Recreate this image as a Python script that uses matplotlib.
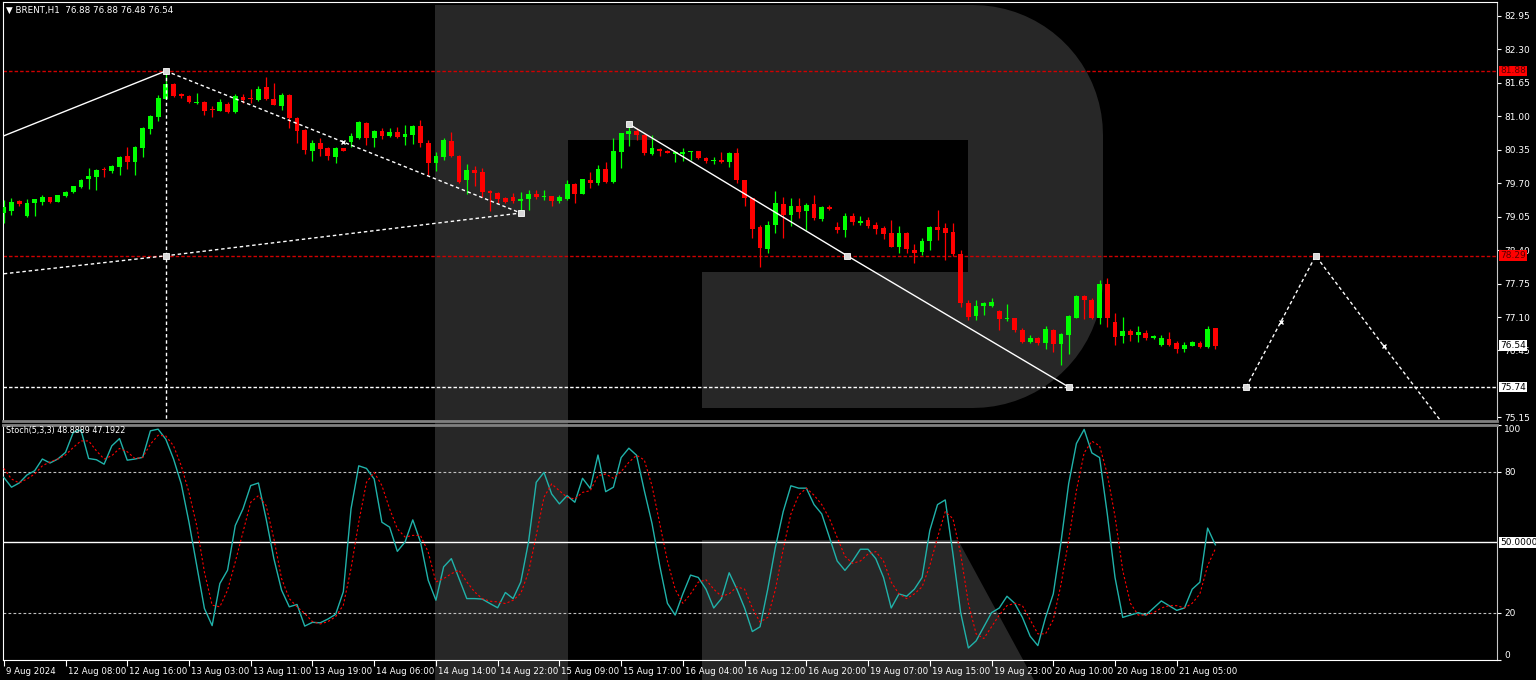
import numpy as np
import matplotlib
matplotlib.use('Agg')
import matplotlib.pyplot as plt
from matplotlib.patches import Rectangle, Polygon
from matplotlib.transforms import ScaledTranslation

# ---------------- data: BRENT H1 candles (open, high, low, close)
opens = [79.12, 79.15, 79.36, 79.07, 79.32, 79.34, 79.43, 79.34, 79.45, 79.52,
         79.62, 79.78, 79.82, 79.97, 79.93, 80.02, 80.22, 80.12, 80.38, 80.76,
         80.99, 81.34, 81.63, 81.43, 81.40, 81.25, 81.28, 81.15, 81.11, 81.24,
         81.09, 81.37, 81.35, 81.32, 81.56, 81.33, 81.20, 81.42, 80.97, 80.74,
         80.33, 80.49, 80.38, 80.20, 80.38, 80.50, 80.57, 80.87, 80.57, 80.72,
         80.61, 80.70, 80.60, 80.64, 80.81, 80.49, 80.09, 80.20, 80.51, 80.23,
         79.76, 79.95, 79.91, 79.54, 79.51, 79.42, 79.44, 79.36, 79.39, 79.49,
         79.44, 79.45, 79.36, 79.40, 79.69, 79.49, 79.76, 79.70, 79.98, 79.73,
         80.31, 80.65, 80.72, 80.63, 80.27, 80.37, 80.33, 80.27, 80.27, 80.30,
         80.32, 80.19, 80.13, 80.15, 80.12, 80.28, 79.76, 79.41, 78.84, 78.42,
         78.89, 79.29, 79.08, 79.25, 79.15, 79.29, 79.01, 79.23, 78.84, 78.79,
         79.07, 78.92, 78.99, 78.89, 78.83, 78.74, 78.47, 78.73, 78.40, 78.37,
         78.57, 78.84, 78.83, 78.75, 78.33, 77.38, 77.12, 77.32, 77.32, 77.22,
         77.06, 77.08, 76.85, 76.62, 76.70, 76.59, 76.85, 76.58, 76.75, 77.09,
         77.51, 77.43, 77.08, 77.74, 77.00, 76.73, 76.83, 76.75, 76.79, 76.70,
         76.56, 76.68, 76.59, 76.48, 76.54, 76.59, 76.51, 76.88]
highs = [79.38, 79.42, 79.37, 79.39, 79.40, 79.47, 79.44, 79.48, 79.55, 79.65,
         79.78, 80.00, 79.97, 80.01, 80.05, 80.22, 80.41, 80.42, 80.80, 81.03,
         81.42, 81.88, 81.64, 81.45, 81.41, 81.45, 81.29, 81.19, 81.33, 81.27,
         81.43, 81.43, 81.53, 81.59, 81.76, 81.65, 81.46, 81.43, 80.99, 80.75,
         80.53, 80.57, 80.40, 80.40, 80.38, 80.67, 80.90, 80.88, 80.74, 80.77,
         80.77, 80.79, 80.83, 80.83, 80.92, 80.54, 80.30, 80.57, 80.69, 80.25,
         80.08, 80.04, 79.99, 79.57, 79.52, 79.44, 79.51, 79.52, 79.56, 79.56,
         79.57, 79.45, 79.47, 79.77, 79.70, 79.79, 79.91, 80.06, 80.12, 80.57,
         80.67, 80.85, 80.77, 80.66, 80.64, 80.38, 80.35, 80.33, 80.38, 80.32,
         80.33, 80.20, 80.20, 80.30, 80.30, 80.38, 79.76, 79.41, 78.89, 78.97,
         79.54, 79.44, 79.41, 79.42, 79.31, 79.47, 79.25, 79.28, 78.94, 79.13,
         79.12, 79.07, 79.05, 78.94, 78.87, 78.99, 78.87, 78.76, 78.51, 78.64,
         78.86, 79.18, 78.93, 78.93, 78.40, 77.43, 77.43, 77.40, 77.46, 77.24,
         77.36, 77.09, 76.88, 76.75, 76.72, 76.92, 76.86, 76.79, 77.14, 77.53,
         77.53, 77.47, 77.81, 77.85, 77.18, 77.11, 76.86, 76.92, 76.85, 76.75,
         76.75, 76.81, 76.64, 76.61, 76.63, 76.64, 76.93, 76.88]
lows = [78.93, 79.08, 79.26, 79.05, 79.07, 79.28, 79.32, 79.33, 79.43, 79.51,
        79.60, 79.59, 79.56, 79.82, 79.90, 79.86, 79.97, 79.85, 80.21, 80.66,
        80.90, 81.34, 81.38, 81.36, 81.25, 81.23, 81.03, 80.98, 81.10, 81.07,
        81.07, 81.25, 81.25, 81.30, 81.32, 81.21, 81.12, 80.77, 80.48, 80.27,
        80.14, 80.22, 80.15, 80.09, 80.32, 80.41, 80.56, 80.44, 80.40, 80.55,
        80.59, 80.58, 80.44, 80.46, 80.41, 79.86, 79.93, 80.15, 80.20, 79.70,
        79.49, 79.65, 79.44, 79.15, 79.31, 79.31, 79.31, 79.10, 79.17, 79.39,
        79.38, 79.26, 79.31, 79.38, 79.32, 79.49, 79.60, 79.67, 79.70, 79.70,
        79.99, 80.43, 80.54, 80.24, 80.25, 80.22, 80.28, 80.12, 80.14, 80.15,
        80.17, 80.10, 80.08, 80.09, 80.01, 79.70, 79.25, 78.63, 78.08, 78.35,
        78.74, 78.64, 78.87, 79.02, 78.79, 78.99, 78.97, 79.18, 78.74, 78.66,
        78.89, 78.89, 78.83, 78.72, 78.61, 78.46, 78.35, 78.35, 78.15, 78.31,
        78.40, 78.60, 78.21, 78.28, 77.29, 77.05, 77.05, 77.14, 77.30, 76.85,
        77.03, 76.80, 76.60, 76.60, 76.55, 76.48, 76.42, 76.16, 76.39, 77.08,
        77.07, 77.06, 76.97, 76.90, 76.56, 76.59, 76.64, 76.62, 76.66, 76.68,
        76.54, 76.54, 76.41, 76.43, 76.53, 76.50, 76.49, 76.48]
closes = [79.24, 79.34, 79.30, 79.32, 79.39, 79.43, 79.34, 79.47, 79.53, 79.64,
          79.77, 79.84, 79.96, 79.95, 80.04, 80.21, 80.12, 80.41, 80.77, 81.01,
          81.35, 81.63, 81.40, 81.40, 81.27, 81.27, 81.11, 81.13, 81.27, 81.09,
          81.40, 81.32, 81.33, 81.53, 81.33, 81.22, 81.42, 80.96, 80.72, 80.35,
          80.48, 80.36, 80.22, 80.38, 80.33, 80.61, 80.88, 80.57, 80.72, 80.61,
          80.70, 80.59, 80.65, 80.81, 80.48, 80.10, 80.23, 80.53, 80.22, 79.73,
          79.95, 79.89, 79.52, 79.51, 79.40, 79.34, 79.36, 79.40, 79.49, 79.44,
          79.46, 79.36, 79.44, 79.69, 79.49, 79.78, 79.70, 79.98, 79.73, 80.33,
          80.67, 80.72, 80.63, 80.28, 80.39, 80.32, 80.29, 80.30, 80.31, 80.32,
          80.18, 80.13, 80.15, 80.12, 80.28, 79.76, 79.41, 78.81, 78.44, 78.89,
          79.31, 79.08, 79.25, 79.14, 79.28, 79.03, 79.23, 79.20, 78.79, 79.07,
          78.94, 78.97, 78.87, 78.81, 78.72, 78.47, 78.74, 78.42, 78.35, 78.58,
          78.84, 78.79, 78.74, 78.32, 77.38, 77.10, 77.32, 77.37, 77.40, 77.06,
          77.09, 76.85, 76.62, 76.70, 76.59, 76.86, 76.58, 76.77, 77.12, 77.51,
          77.43, 77.08, 77.74, 77.08, 76.72, 76.83, 76.75, 76.81, 76.70, 76.73,
          76.69, 76.56, 76.48, 76.56, 76.61, 76.51, 76.86, 76.54]

# Stochastic (5,3,3): main %K and signal %D
stoch_k = [77.6, 73.4, 75.2, 78.6, 80.4, 85.4, 83.7, 85.4, 88.2, 96.7,
           97.8, 85.6, 85.1, 83.2, 91.0, 94.1, 84.9, 85.4, 86.1, 97.4,
           98.1, 93.8, 85.4, 74.8, 58.5, 40.2, 21.8, 14.5, 32.4, 38.1,
           57.1, 64.2, 74.1, 75.2, 59.9, 43.0, 29.6, 22.5, 23.5, 14.3,
           15.9, 15.7, 17.3, 19.3, 28.9, 64.2, 82.5, 81.4, 76.9, 58.5,
           56.4, 46.1, 50.1, 59.5, 50.1, 33.8, 25.3, 39.5, 43.0, 34.5,
           26.0, 26.0, 25.8, 23.9, 22.1, 28.6, 26.0, 33.1, 50.1, 75.5,
           79.7, 70.5, 66.3, 69.8, 67.0, 77.2, 72.9, 87.1, 71.5, 73.4,
           86.0, 90.0, 87.0, 72.0, 58.0, 40.0, 24.0, 19.0, 28.0, 36.0,
           35.0, 30.0, 22.0, 26.0, 37.0, 30.0, 22.0, 12.0, 14.0, 30.0,
           48.0, 63.0, 74.0, 73.0, 73.0, 66.0, 62.0, 52.0, 42.0, 38.0,
           42.0, 47.0, 47.0, 43.0, 35.0, 22.0, 28.0, 27.0, 30.0, 35.0,
           55.0, 66.0, 68.0, 45.0, 20.0, 5.0, 8.0, 14.0, 20.0, 22.0,
           27.0, 24.0, 18.0, 10.0, 6.0, 18.0, 28.0, 50.0, 75.0, 92.0,
           98.0, 88.0, 86.0, 62.0, 35.0, 18.0, 19.0, 20.0, 19.0, 22.0,
           25.0, 23.0, 21.0, 22.0, 30.0, 33.0, 56.0, 48.8889]
stoch_d = [81.4, 76.9, 75.2, 76.9, 79.0, 82.5, 84.2, 85.4, 87.1, 90.3,
           93.1, 93.1, 88.9, 85.4, 86.8, 89.9, 88.5, 85.6, 86.1, 91.7,
           95.5, 95.2, 91.0, 82.5, 71.2, 57.1, 37.3, 23.2, 22.5, 29.6,
           41.6, 54.3, 67.0, 69.8, 65.6, 51.5, 34.5, 26.0, 22.5, 19.7,
           16.2, 15.2, 16.2, 18.3, 23.2, 38.8, 58.5, 75.5, 79.7, 74.1,
           64.2, 55.7, 52.2, 52.9, 52.9, 45.8, 33.1, 34.5, 36.6, 38.1,
           33.1, 28.9, 26.0, 24.9, 24.6, 23.9, 25.3, 28.2, 37.3, 52.9,
           69.1, 74.8, 71.9, 69.1, 68.4, 71.2, 71.9, 78.3, 79.0, 77.2,
           80.0, 84.0, 87.0, 85.0, 74.0, 58.0, 42.0, 30.0, 24.0, 28.0,
           33.0, 34.0, 30.0, 27.0, 28.0, 31.0, 30.0, 22.0, 16.0, 18.0,
           30.0, 47.0, 62.0, 70.0, 73.0, 70.0, 66.0, 60.0, 52.0, 44.0,
           41.0, 42.0, 45.0, 46.0, 42.0, 33.0, 28.0, 26.0, 28.0, 31.0,
           40.0, 52.0, 63.0, 60.0, 45.0, 24.0, 11.0, 9.0, 14.0, 19.0,
           23.0, 24.0, 23.0, 17.0, 11.0, 11.0, 17.0, 32.0, 51.0, 72.0,
           88.0, 93.0, 91.0, 79.0, 61.0, 38.0, 24.0, 19.0, 19.0, 20.0,
           22.0, 23.0, 23.0, 22.0, 24.0, 28.0, 40.0, 47.1922]

# time axis labels, one every 8 bars
time_labels = ['9 Aug 2024', '12 Aug 08:00', '12 Aug 16:00', '13 Aug 03:00', '13 Aug 11:00',
               '13 Aug 19:00', '14 Aug 06:00', '14 Aug 14:00', '14 Aug 22:00', '15 Aug 09:00',
               '15 Aug 17:00', '16 Aug 04:00', '16 Aug 12:00', '16 Aug 20:00', '19 Aug 07:00',
               '19 Aug 15:00', '19 Aug 23:00', '20 Aug 10:00', '20 Aug 18:00', '21 Aug 05:00']
price_ticks = [82.95, 82.30, 81.65, 81.00, 80.35, 79.70, 79.05, 78.40, 77.75, 77.10, 76.45, 75.15]

# horizontal levels
level_hi, level_mid, level_lo = 81.88, 78.29, 75.74
last_price = 76.54

# wave markup (bar index, price)
wave1_x, wave1_y = [0, 21], [80.62, 81.88]
wave2_x, wave2_y = [21, 44, 67], [81.88, 80.50, 79.12]
wave3_x, wave3_y = [0, 21, 67], [77.94, 78.29, 79.12]
wave4_x, wave4_y = [81, 109.3, 138], [80.85, 78.29, 75.74]
fcst_x, fcst_y = [161, 165.5, 170, 178.8, 188], [75.74, 77.01, 78.29, 76.54, 74.73]

# ---------------- figure
W, H = 1536, 680
fig = plt.figure(figsize=(W / 100, H / 100), dpi=100, facecolor='black')


def fr(x0, y0, x1, y1):
    return [x0 / W, 1 - y1 / H, (x1 - x0) / W, (y1 - y0) / H]


def pt(x, y):
    return (x / W, 1 - y / H)


# watermark "R" in the background
grey = '#272727'
wm = dict(transform=fig.transFigure, zorder=-5, lw=0)
fig.add_artist(Rectangle(pt(435, 680), 133 / W, 675 / H, fc=grey, **wm))
r = 130
t1 = np.linspace(np.pi / 2, 0, 20)
t2 = np.linspace(0, -np.pi / 2, 20)
bowl = [(435, 5)] + [(973 + r * np.cos(a), 135 - r * np.sin(a)) for a in t1] + \
       [(973 + r * np.cos(a), 278 - r * np.sin(a)) for a in t2] + [(435, 408)]
fig.add_artist(Polygon([pt(x, y) for x, y in bowl], fc=grey, **wm))
fig.add_artist(Rectangle(pt(568, 272), 400 / W, 132 / H, fc='black', **wm))
fig.add_artist(Rectangle(pt(568, 408), 134 / W, 136 / H, fc='black', **wm))
fig.add_artist(Polygon([pt(702, 540), pt(958, 540), pt(1034, 680), pt(702, 680)], fc=grey, **wm))

ax = fig.add_axes(fr(3, 2, 1497, 421))
ax2 = fig.add_axes(fr(3, 424.7, 1497, 659.7), sharex=ax)
for a in (ax, ax2):
    a.set_facecolor('none')
    a.spines['left'].set_color('white')
    a.spines['right'].set_color('#c8c8c8')
    a.yaxis.tick_right()
    a.tick_params(axis='y', colors='white', labelsize=6.5, length=3, width=0.8, pad=2)
ax.spines['top'].set_color('white')
ax.spines['bottom'].set_color('#808080')
ax.spines['bottom'].set_linewidth(2)
ax2.spines['top'].set_color('#808080')
ax2.spines['top'].set_linewidth(2)
ax2.spines['bottom'].set_color('white')

# candles
idx = np.arange(len(opens))
o, h, l, c = map(np.array, (opens, highs, lows, closes))
col = np.where(c >= o, '#00ff00', '#ff0000')
ax.vlines(idx, l, h, colors=col, lw=0.9, zorder=3)
ax.bar(idx, np.maximum(np.abs(c - o), 0.02), bottom=np.minimum(o, c), width=0.62,
       color=col, linewidth=0, zorder=3)

# levels
ax.axhline(level_hi, color='#d00000', lw=1, dashes=(2.5, 1.5), zorder=2)
ax.axhline(level_mid, color='#d00000', lw=1, dashes=(2.5, 1.5), zorder=2)
ax.axhline(level_lo, color='white', lw=1, dashes=(2.5, 1.5), zorder=2)

# wave markup
ax.plot(wave1_x, wave1_y, color='white', lw=1, zorder=4)
ax.plot(wave2_x, wave2_y, color='white', lw=1, dashes=(2.5, 2), zorder=4)
ax.plot(wave3_x, wave3_y, color='white', lw=1, dashes=(2.5, 2), zorder=4)
ax.plot([wave1_x[1], wave1_x[1]], [wave1_y[1], 75.0], color='white', lw=1, dashes=(2.5, 2), zorder=4)
ax.plot(wave4_x, wave4_y, color='white', lw=1, zorder=4)
ax.plot(fcst_x, fcst_y, color='white', lw=1, dashes=(2.5, 2), zorder=4)
mk = dict(marker='s', ms=4, mfc='#d8d8d8', mec='white', mew=0.6, ls='none', zorder=5)
ax.plot([wave1_x[1], wave3_x[1], wave2_x[2], wave4_x[0], wave4_x[1], wave4_x[2], fcst_x[0], fcst_x[2]],
        [wave1_y[1], wave3_y[1], wave2_y[2], wave4_y[0], wave4_y[1], wave4_y[2], fcst_y[0], fcst_y[2]], **mk)
ax.plot([wave2_x[1], fcst_x[1], fcst_x[3]], [wave2_y[1], fcst_y[1], fcst_y[3]],
        marker='x', ms=3.5, mec='white', mew=1, ls='none', zorder=5)

ax.set_xlim(-0.1, 193.5)
ax.set_ylim(75.08, 83.22)
ax.set_yticks(price_ticks)
ax.set_yticklabels(['%.2f' % v for v in price_ticks])
ax.tick_params(axis='x', bottom=False, labelbottom=False)

ytr = ax.get_yaxis_transform()
box = dict(boxstyle='square,pad=0.1', ec='none')
for lvl, fc, tc in [(level_hi, '#ff0000', '#5a0000'), (level_mid, '#ff0000', '#5a0000'),
                    (level_lo, 'white', 'black'), (last_price, 'white', 'black')]:
    ax.text(1.0022, lvl, '%.2f' % lvl, transform=ytr, fontsize=6.5, va='center', ha='left',
            color=tc, bbox=dict(fc=fc, **box), zorder=6, clip_on=False)

# stochastic panel
ax2.plot(idx, stoch_k, color='#20b2aa', lw=1, zorder=4)
ax2.plot(idx, stoch_d, color='#ff0000', lw=0.8, dashes=(2, 2), zorder=4)
ax2.axhline(80, color='#c0c0c0', lw=0.8, dashes=(2.5, 2))
ax2.axhline(20, color='#c0c0c0', lw=0.8, dashes=(2.5, 2))
ax2.axhline(50, color='white', lw=1)
ax2.set_ylim(0, 100)
ax2.set_yticks([0, 20, 80, 100])
ax2.set_yticklabels(['0', '20', '80', '100'])
lbls = ax2.get_yticklabels()
lbls[0].set_verticalalignment('bottom')
lbls[-1].set_verticalalignment('top')
ax2.text(1.0022, 50, '50.0000', transform=ax2.get_yaxis_transform(), fontsize=6.5, va='center',
         ha='left', color='black', bbox=dict(fc='white', **box), zorder=6, clip_on=False)

ax2.set_xticks(idx[::8][:len(time_labels)])
ax2.set_xticklabels(time_labels)
ax2.tick_params(axis='x', colors='white', labelsize=6.2, length=4, width=0.8, pad=1.5)
off = ScaledTranslation(2 / 100, 0, fig.dpi_scale_trans)
for t in ax2.get_xticklabels():
    t.set_horizontalalignment('left')
    t.set_transform(t.get_transform() + off)

fig.text(6 / W, 1 - 10 / H, '\u25bc BRENT,H1  76.88 76.88 76.48 76.54', color='white',
         fontsize=6.3, va='center', ha='left')
fig.text(6 / W, 1 - 431 / H, 'Stoch(5,3,3) 48.8889 47.1922', color='white',
         fontsize=5.8, va='center', ha='left')

fig.savefig('out.png', dpi=100, facecolor='black')
